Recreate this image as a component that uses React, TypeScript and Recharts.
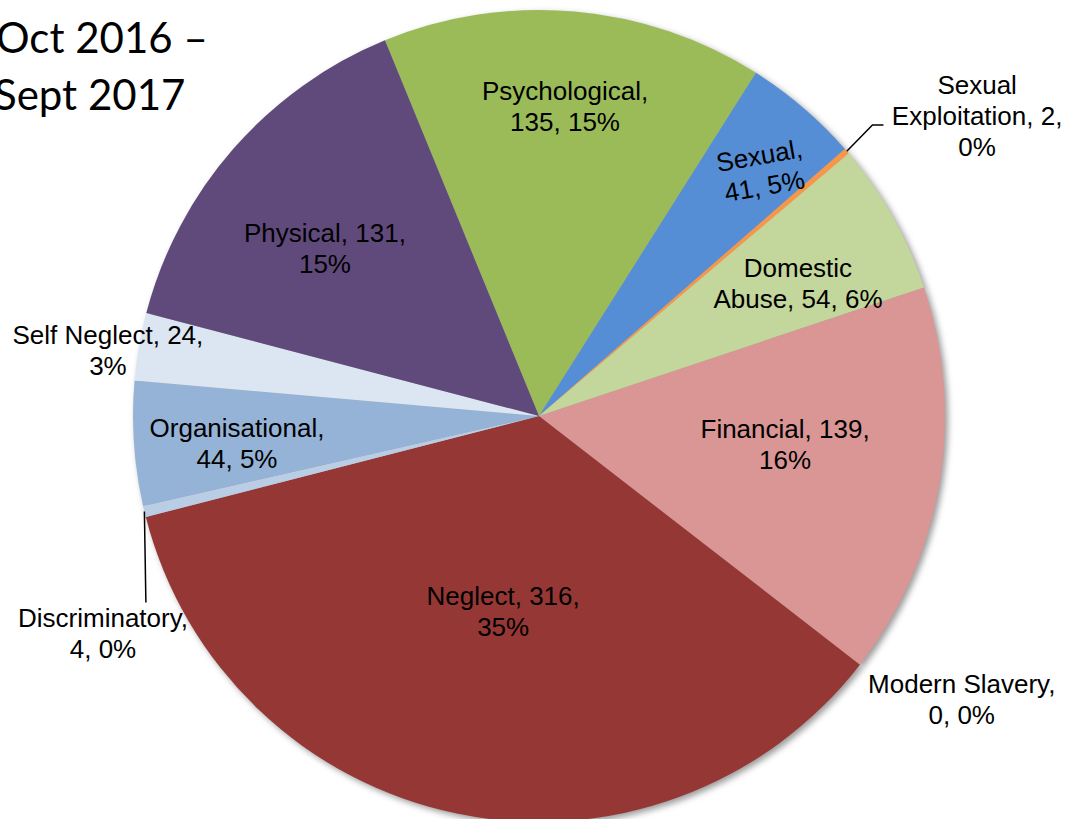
import React from 'react';
import { PieChart, Pie, Cell } from 'recharts';

const categories = [
  'Psychological',
  'Sexual',
  'Sexual Exploitation',
  'Domestic Abuse',
  'Financial',
  'Modern Slavery',
  'Neglect',
  'Discriminatory',
  'Organisational',
  'Self Neglect',
  'Physical',
];
const counts = [135, 41, 2, 54, 139, 0, 316, 4, 44, 24, 131];
const percentLabels = ['15%', '5%', '0%', '6%', '16%', '0%', '35%', '0%', '5%', '3%', '15%'];
const colors = [
  '#9BBB59',
  '#558ED5',
  '#F79646',
  '#C3D69B',
  '#D99694',
  '#E46C0A',
  '#953735',
  '#B9CDE5',
  '#95B3D7',
  '#DCE6F2',
  '#604A7B',
];
const titleLines = ['Oct 2016 \u2013', 'Sept 2017'];

// label placement: radius factor of outer radius, clockwise angle shift from slice middle,
// words per line, optional rotation and leader style
const labelLayout: { r: number; da: number; words: number[]; rot?: number; leader?: string }[] = [
  { r: 0.766, da: -0.2, words: [1, 2] },
  { r: 0.816, da: 1.7, words: [1, 2], rot: -10 },
  { r: 1.308, da: 6.3, words: [1, 2, 1], leader: 'elbow' },
  { r: 0.717, da: 2.2, words: [1, 3] },
  { r: 0.61, da: -3.15, words: [2, 1] },
  { r: 1.254, da: -3.9, words: [2, 2] },
  { r: 0.49, da: -1.3, words: [2, 1] },
  { r: 1.2, da: -12.9, words: [1, 2], leader: 'vertical' },
  { r: 0.747, da: -1.4, words: [1, 2] },
  { r: 1.074, da: -1.2, words: [3, 1] },
  { r: 0.67, da: -3.1, words: [2, 1] },
];

const data = categories.map((name, i) => ({ name, value: counts[i], pct: percentLabels[i] }));

const RAD = Math.PI / 180;
const LINE_H = 31;
const FONT = '"Liberation Sans", Arial, sans-serif';

function polar(cx: number, cy: number, r: number, angle: number) {
  return { x: cx + r * Math.cos(angle * RAD), y: cy - r * Math.sin(angle * RAD) };
}

function labelPos(props: any) {
  const { cx, cy, midAngle, outerRadius, index } = props;
  const lay = labelLayout[index];
  return polar(cx, cy, lay.r * outerRadius, midAngle - lay.da);
}

function renderLabel(props: any) {
  const { index, name, value, payload } = props;
  const lay = labelLayout[index];
  const pct = (payload && payload.pct) ?? percentLabels[index];
  const text = `${name}, ${value}, ${pct}`;
  const words = text.split(' ');
  const lines: string[] = [];
  let k = 0;
  lay.words.forEach((n) => {
    lines.push(words.slice(k, k + n).join(' '));
    k += n;
  });
  const p = labelPos(props);
  const n = lines.length;
  return (
    <text
      key={`lbl-${index}`}
      x={p.x}
      y={p.y}
      textAnchor="middle"
      fontFamily={FONT}
      fontSize={26}
      fill="#000"
      transform={lay.rot ? `rotate(${lay.rot}, ${p.x}, ${p.y})` : undefined}
    >
      {lines.map((ln, i) => (
        <tspan key={i} x={p.x} y={p.y + (i - (n - 1) / 2) * LINE_H + 9}>
          {ln}
        </tspan>
      ))}
    </text>
  );
}

function renderLabelLine(props: any) {
  const { cx, cy, midAngle, outerRadius, index } = props;
  const lay = labelLayout[index];
  if (!lay.leader) return <g key={`ll-${index}`} />;
  const start = polar(cx, cy, outerRadius, midAngle);
  if (lay.leader === 'elbow') {
    const elbow = polar(cx, cy, outerRadius * 1.09, midAngle + 0.4);
    const d = `M${start.x},${start.y}L${elbow.x},${elbow.y}L${elbow.x + 11},${elbow.y}`;
    return <path key={`ll-${index}`} d={d} stroke="#000" strokeWidth={1.5} fill="none" />;
  }
  const p = labelPos(props);
  const n = lay.words.length;
  const endY = p.y - (n / 2) * LINE_H;
  const d = `M${start.x},${start.y}L${start.x + 1.5},${endY}`;
  return <path key={`ll-${index}`} d={d} stroke="#000" strokeWidth={1.5} fill="none" />;
}

export default function App() {
  const CX = 539;
  const CY = 416;
  const R = 406;
  return (
    <div style={{ position: 'absolute', left: 0, top: 0, width: 1069, height: 819, background: '#fff', overflow: 'hidden' }}>
      <style>{`.pie-shadow path { filter: blur(3px); }`}</style>
      <PieChart width={1069} height={819} margin={{ top: 0, right: 0, bottom: 0, left: 0 }}>
        <Pie
          className="pie-shadow"
          data={data}
          dataKey="value"
          nameKey="name"
          cx={CX + 3}
          cy={CY + 3}
          outerRadius={R}
          startAngle={112.3}
          endAngle={-247.7}
          stroke="none"
          isAnimationActive={false}
          label={false}
          labelLine={false}
        >
          {data.map((_, i) => (
            <Cell key={`s-${i}`} fill="#9a9a9a" />
          ))}
        </Pie>
        <Pie
          data={data}
          dataKey="value"
          nameKey="name"
          cx={CX}
          cy={CY}
          outerRadius={R}
          startAngle={112.3}
          endAngle={-247.7}
          stroke="none"
          isAnimationActive={false}
          label={renderLabel}
          labelLine={renderLabelLine}
        >
          {data.map((_, i) => (
            <Cell key={`c-${i}`} fill={colors[i]} />
          ))}
        </Pie>
      </PieChart>
      <svg width={320} height={140} style={{ position: 'absolute', left: 0, top: 0, overflow: 'visible' }}>
        <text x={-4} y={53} fontFamily="Lato, 'Open Sans', sans-serif" fontSize={42} fill="#000">
          {titleLines[0]}
        </text>
        <text x={-6} y={110} fontFamily="Lato, 'Open Sans', sans-serif" fontSize={42} fill="#000">
          {titleLines[1]}
        </text>
      </svg>
    </div>
  );
}
